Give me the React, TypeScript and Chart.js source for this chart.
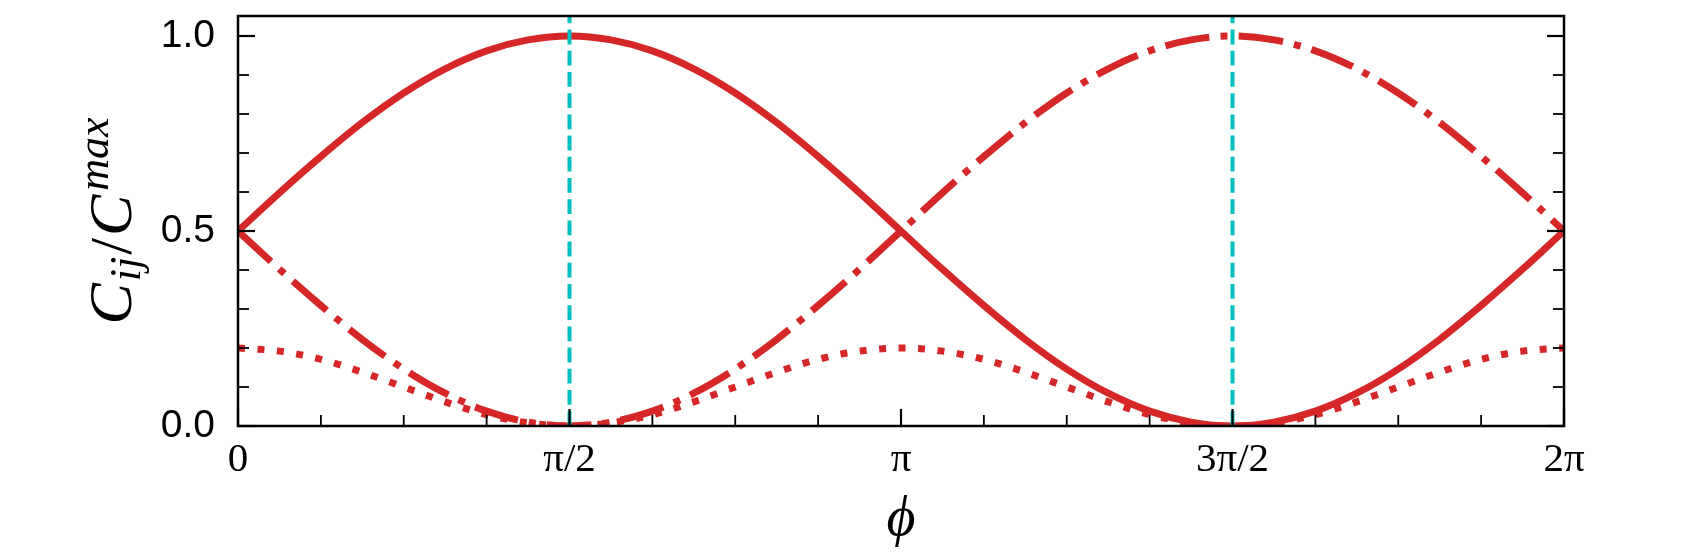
import React, { useEffect, useRef } from 'react';
import { Chart, registerables } from 'chart.js';

Chart.register(...registerables);

// phase values (radians), step pi/16
const PHI = [
  0, 0.1963, 0.3927, 0.589, 0.7854, 0.9817, 1.1781, 1.3744, 1.5708, 1.7671, 1.9635,
  2.1598, 2.3562, 2.5525, 2.7489, 2.9452, 3.1416, 3.3379, 3.5343, 3.7306, 3.927,
  4.1233, 4.3197, 4.516, 4.7124, 4.9087, 5.1051, 5.3014, 5.4978, 5.6941, 5.8905,
  6.0868, 6.2832,
];
const SOLID = [
  0.5, 0.598, 0.691, 0.778, 0.854, 0.916, 0.962, 0.99, 1.0, 0.99, 0.962, 0.916, 0.854,
  0.778, 0.691, 0.598, 0.5, 0.402, 0.309, 0.222, 0.146, 0.084, 0.038, 0.01, 0.0, 0.01,
  0.038, 0.084, 0.146, 0.222, 0.309, 0.402, 0.5,
];
const DASH_DOT = [
  0.5, 0.402, 0.309, 0.222, 0.146, 0.084, 0.038, 0.01, 0.0, 0.01, 0.038, 0.084, 0.146,
  0.222, 0.309, 0.402, 0.5, 0.598, 0.691, 0.778, 0.854, 0.916, 0.962, 0.99, 1.0, 0.99,
  0.962, 0.916, 0.854, 0.778, 0.691, 0.598, 0.5,
];
const DOTTED = [
  0.2, 0.192, 0.171, 0.138, 0.1, 0.062, 0.029, 0.008, 0.0, 0.008, 0.029, 0.062, 0.1,
  0.138, 0.171, 0.192, 0.2, 0.192, 0.171, 0.138, 0.1, 0.062, 0.029, 0.008, 0.0, 0.008,
  0.029, 0.062, 0.1, 0.138, 0.171, 0.192, 0.2,
];
const MARKERS = [1.5708, 4.7124];

const X_MAX = 6.2832;
const Y_MAX = 1.0513;
const X_MAJOR = [0, 1.5708, 3.1416, 4.7124, 6.2832];
const X_LABELS = ['0', 'π/2', 'π', '3π/2', '2π'];
const X_MINOR = [0.3927, 0.7854, 1.1781, 1.9635, 2.3562, 2.7489, 3.5343, 3.927, 4.3197, 5.1051, 5.4978, 5.8905];
const Y_MAJOR = [0, 0.5, 1.0];
const Y_LABELS = ['0.0', '0.5', '1.0'];
const Y_MINOR = [0.1, 0.2, 0.3, 0.4, 0.6, 0.7, 0.8, 0.9];

const RED = '#d62728';
const CYAN = '#00bfbf';

const framePlugin = {
  id: 'frameTicks',
  afterDatasetsDraw(chart: any) {
    const { ctx, chartArea, scales } = chart;
    const { left, right, top, bottom } = chartArea;
    const xs = scales.x;
    const ys = scales.y;
    ctx.save();
    ctx.strokeStyle = '#000';
    ctx.lineCap = 'butt';
    const seg = (x1: number, y1: number, x2: number, y2: number, w: number) => {
      ctx.lineWidth = w;
      ctx.beginPath();
      ctx.moveTo(x1, y1);
      ctx.lineTo(x2, y2);
      ctx.stroke();
    };
    X_MAJOR.forEach((v) => {
      const p = xs.getPixelForValue(v);
      seg(p, bottom, p, bottom - 17, 2.2);
    });
    X_MINOR.forEach((v) => {
      const p = xs.getPixelForValue(v);
      seg(p, bottom, p, bottom - 11, 1.8);
    });
    Y_MAJOR.forEach((v) => {
      const p = ys.getPixelForValue(v);
      seg(left, p, left + 17, p, 2.2);
      seg(right, p, right - 17, p, 2.2);
    });
    Y_MINOR.forEach((v) => {
      const p = ys.getPixelForValue(v);
      seg(left, p, left + 11, p, 1.8);
      seg(right, p, right - 11, p, 1.8);
    });
    ctx.lineWidth = 2.5;
    ctx.strokeRect(left, top, right - left, bottom - top);
    ctx.restore();
  },
};

const yTitlePlugin = {
  id: 'yTitle',
  afterDraw(chart: any) {
    const { ctx, chartArea } = chart;
    const main = 'italic 62px "Liberation Serif"';
    const script = 'italic 44px "Liberation Serif"';
    const upright = '60px "Liberation Serif"';
    const parts = [
      { t: 'C', f: main, dy: 0, gap: 2 },
      { t: 'ij', f: script, dy: 9, gap: 2 },
      { t: '/', f: upright, dy: 0, gap: 2 },
      { t: 'C', f: main, dy: 0, gap: 4 },
      { t: 'max', f: script, dy: -23, gap: 0 },
    ];
    ctx.save();
    const widths = parts.map((p) => {
      ctx.font = p.f;
      return ctx.measureText(p.t).width + p.gap;
    });
    const total = widths.reduce((a, b) => a + b, 0);
    ctx.translate(131, (chartArea.top + chartArea.bottom) / 2);
    ctx.rotate(-Math.PI / 2);
    ctx.fillStyle = '#000';
    ctx.textAlign = 'left';
    ctx.textBaseline = 'alphabetic';
    let xp = -total / 2;
    parts.forEach((p, i) => {
      ctx.font = p.f;
      ctx.fillText(p.t, xp, p.dy);
      xp += widths[i];
    });
    ctx.restore();
  },
};

export default function App() {
  const ref = useRef<HTMLCanvasElement | null>(null);

  useEffect(() => {
    if (!ref.current) return;
    const pts = (arr: number[]) => PHI.map((p, i) => ({ x: p, y: arr[i] }));
    const vline = (m: number) => ({
      data: [
        { x: m, y: 0 },
        { x: m, y: Y_MAX },
      ],
      borderColor: CYAN,
      borderWidth: 4,
      borderDash: [14.8, 6.4],
      borderCapStyle: 'butt',
      pointRadius: 0,
      clip: 0,
    });
    const redLine = (arr: number[], dash: number[]) => ({
      data: pts(arr),
      borderColor: RED,
      borderWidth: 7,
      borderDash: dash,
      pointRadius: 0,
      cubicInterpolationMode: 'monotone',
      borderCapStyle: 'butt',
      clip: 0,
    });
    const chart = new Chart(ref.current, {
      type: 'line',
      data: {
        datasets: [
          vline(MARKERS[0]),
          vline(MARKERS[1]),
          redLine(SOLID, []),
          redLine(DASH_DOT, [44.8, 11.2, 7, 11.2]),
          redLine(DOTTED, [7, 12.5]),
        ] as any,
      },
      options: {
        animation: false,
        responsive: false,
        devicePixelRatio: 1,
        layout: { padding: { top: 16, right: 136, left: 0, bottom: 0 } },
        plugins: { legend: { display: false }, tooltip: { enabled: false } },
        scales: {
          x: {
            type: 'linear',
            min: 0,
            max: X_MAX,
            grid: { display: false },
            border: { display: false },
            afterBuildTicks: (s: any) => {
              s.ticks = X_MAJOR.map((v) => ({ value: v }));
            },
            afterFit: (s: any) => {
              s.height = 134;
              s.paddingLeft = 0;
              s.paddingRight = 0;
            },
            ticks: {
              autoSkip: false,
              maxRotation: 0,
              padding: 2,
              color: '#000',
              font: { family: 'Liberation Serif', size: 41 },
              callback: (_v: any, i: number) => X_LABELS[i],
            },
            title: {
              display: true,
              text: 'ϕ',
              color: '#000',
              font: { family: 'Liberation Serif', size: 56, style: 'italic' },
              padding: { top: 0, bottom: 6 },
            },
          },
          y: {
            type: 'linear',
            min: 0,
            max: Y_MAX,
            grid: { display: false },
            border: { display: false },
            afterBuildTicks: (s: any) => {
              s.ticks = Y_MAJOR.map((v) => ({ value: v }));
            },
            afterFit: (s: any) => {
              s.width = 238;
              s.paddingTop = 0;
              s.paddingBottom = 0;
            },
            ticks: {
              autoSkip: false,
              padding: 15,
              color: '#000',
              font: { family: 'Liberation Sans', size: 39 },
              callback: (_v: any, i: number) => Y_LABELS[i],
            },
          },
        },
      } as any,
      plugins: [framePlugin, yTitlePlugin],
    });
    return () => chart.destroy();
  }, []);

  return (
    <div style={{ position: 'fixed', left: 0, top: 0, width: 1700, height: 560, background: '#fff' }}>
      <canvas ref={ref} width={1700} height={560} />
    </div>
  );
}
